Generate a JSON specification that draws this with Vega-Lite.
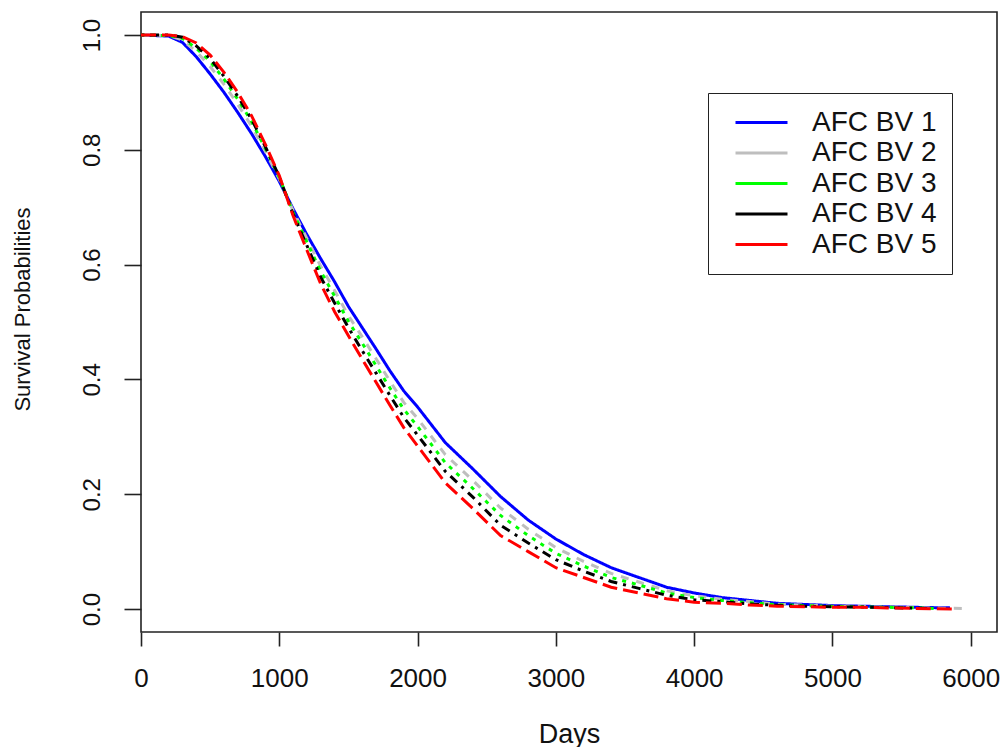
{
  "$schema": "https://vega.github.io/schema/vega-lite/v6.json",
  "width": 856,
  "height": 620,
  "autosize": "none",
  "padding": {"left": 141, "top": 12, "right": 7, "bottom": 115},
  "background": "white",
  "config": {
    "view": {"stroke": "#222222", "strokeWidth": 1.6},
    "font": "Liberation Sans"
  },
  "datasets": {
    "km": [
      {"series": "AFC BV 1", "day": 0, "s": 1.0},
      {"series": "AFC BV 1", "day": 200, "s": 0.998},
      {"series": "AFC BV 1", "day": 300, "s": 0.987},
      {"series": "AFC BV 1", "day": 400, "s": 0.962},
      {"series": "AFC BV 1", "day": 500, "s": 0.932},
      {"series": "AFC BV 1", "day": 600, "s": 0.9},
      {"series": "AFC BV 1", "day": 700, "s": 0.865},
      {"series": "AFC BV 1", "day": 800, "s": 0.828},
      {"series": "AFC BV 1", "day": 900, "s": 0.788},
      {"series": "AFC BV 1", "day": 1000, "s": 0.745},
      {"series": "AFC BV 1", "day": 1100, "s": 0.697},
      {"series": "AFC BV 1", "day": 1200, "s": 0.652},
      {"series": "AFC BV 1", "day": 1300, "s": 0.61},
      {"series": "AFC BV 1", "day": 1400, "s": 0.57},
      {"series": "AFC BV 1", "day": 1500, "s": 0.527},
      {"series": "AFC BV 1", "day": 1600, "s": 0.49},
      {"series": "AFC BV 1", "day": 1700, "s": 0.453},
      {"series": "AFC BV 1", "day": 1800, "s": 0.415},
      {"series": "AFC BV 1", "day": 1900, "s": 0.38},
      {"series": "AFC BV 1", "day": 2000, "s": 0.352},
      {"series": "AFC BV 1", "day": 2200, "s": 0.29},
      {"series": "AFC BV 1", "day": 2400, "s": 0.244},
      {"series": "AFC BV 1", "day": 2600, "s": 0.196},
      {"series": "AFC BV 1", "day": 2800, "s": 0.155},
      {"series": "AFC BV 1", "day": 3000, "s": 0.122},
      {"series": "AFC BV 1", "day": 3200, "s": 0.095},
      {"series": "AFC BV 1", "day": 3400, "s": 0.072},
      {"series": "AFC BV 1", "day": 3600, "s": 0.055},
      {"series": "AFC BV 1", "day": 3800, "s": 0.038},
      {"series": "AFC BV 1", "day": 4000, "s": 0.028},
      {"series": "AFC BV 1", "day": 4200, "s": 0.02},
      {"series": "AFC BV 1", "day": 4400, "s": 0.015},
      {"series": "AFC BV 1", "day": 4600, "s": 0.01},
      {"series": "AFC BV 1", "day": 4800, "s": 0.008},
      {"series": "AFC BV 1", "day": 5000, "s": 0.006},
      {"series": "AFC BV 1", "day": 5200, "s": 0.005},
      {"series": "AFC BV 1", "day": 5400, "s": 0.004},
      {"series": "AFC BV 1", "day": 5600, "s": 0.003},
      {"series": "AFC BV 1", "day": 5850, "s": 0.002},

      {"series": "AFC BV 2", "day": 0, "s": 1.0},
      {"series": "AFC BV 2", "day": 200, "s": 0.999},
      {"series": "AFC BV 2", "day": 300, "s": 0.991},
      {"series": "AFC BV 2", "day": 400, "s": 0.971},
      {"series": "AFC BV 2", "day": 500, "s": 0.945},
      {"series": "AFC BV 2", "day": 600, "s": 0.914},
      {"series": "AFC BV 2", "day": 700, "s": 0.879},
      {"series": "AFC BV 2", "day": 800, "s": 0.841},
      {"series": "AFC BV 2", "day": 900, "s": 0.797},
      {"series": "AFC BV 2", "day": 1000, "s": 0.749},
      {"series": "AFC BV 2", "day": 1100, "s": 0.694},
      {"series": "AFC BV 2", "day": 1200, "s": 0.645},
      {"series": "AFC BV 2", "day": 1300, "s": 0.597},
      {"series": "AFC BV 2", "day": 1400, "s": 0.555},
      {"series": "AFC BV 2", "day": 1500, "s": 0.511},
      {"series": "AFC BV 2", "day": 1600, "s": 0.474},
      {"series": "AFC BV 2", "day": 1700, "s": 0.436},
      {"series": "AFC BV 2", "day": 1800, "s": 0.397},
      {"series": "AFC BV 2", "day": 1900, "s": 0.36},
      {"series": "AFC BV 2", "day": 2000, "s": 0.332},
      {"series": "AFC BV 2", "day": 2200, "s": 0.269},
      {"series": "AFC BV 2", "day": 2400, "s": 0.224},
      {"series": "AFC BV 2", "day": 2600, "s": 0.176},
      {"series": "AFC BV 2", "day": 2800, "s": 0.139},
      {"series": "AFC BV 2", "day": 3000, "s": 0.107},
      {"series": "AFC BV 2", "day": 3200, "s": 0.083},
      {"series": "AFC BV 2", "day": 3400, "s": 0.062},
      {"series": "AFC BV 2", "day": 3600, "s": 0.047},
      {"series": "AFC BV 2", "day": 3800, "s": 0.032},
      {"series": "AFC BV 2", "day": 4000, "s": 0.023},
      {"series": "AFC BV 2", "day": 4200, "s": 0.017},
      {"series": "AFC BV 2", "day": 4400, "s": 0.013},
      {"series": "AFC BV 2", "day": 4600, "s": 0.0085},
      {"series": "AFC BV 2", "day": 4800, "s": 0.007},
      {"series": "AFC BV 2", "day": 5000, "s": 0.005},
      {"series": "AFC BV 2", "day": 5200, "s": 0.0045},
      {"series": "AFC BV 2", "day": 5400, "s": 0.0035},
      {"series": "AFC BV 2", "day": 5600, "s": 0.0025},
      {"series": "AFC BV 2", "day": 5800, "s": 0.0015},
      {"series": "AFC BV 2", "day": 5960, "s": 0.001},

      {"series": "AFC BV 3", "day": 0, "s": 1.0},
      {"series": "AFC BV 3", "day": 200, "s": 0.999},
      {"series": "AFC BV 3", "day": 300, "s": 0.994},
      {"series": "AFC BV 3", "day": 400, "s": 0.977},
      {"series": "AFC BV 3", "day": 500, "s": 0.954},
      {"series": "AFC BV 3", "day": 600, "s": 0.923},
      {"series": "AFC BV 3", "day": 700, "s": 0.888},
      {"series": "AFC BV 3", "day": 800, "s": 0.849},
      {"series": "AFC BV 3", "day": 900, "s": 0.802},
      {"series": "AFC BV 3", "day": 1000, "s": 0.752},
      {"series": "AFC BV 3", "day": 1100, "s": 0.691},
      {"series": "AFC BV 3", "day": 1200, "s": 0.639},
      {"series": "AFC BV 3", "day": 1300, "s": 0.588},
      {"series": "AFC BV 3", "day": 1400, "s": 0.545},
      {"series": "AFC BV 3", "day": 1500, "s": 0.501},
      {"series": "AFC BV 3", "day": 1600, "s": 0.463},
      {"series": "AFC BV 3", "day": 1700, "s": 0.424},
      {"series": "AFC BV 3", "day": 1800, "s": 0.385},
      {"series": "AFC BV 3", "day": 1900, "s": 0.348},
      {"series": "AFC BV 3", "day": 2000, "s": 0.318},
      {"series": "AFC BV 3", "day": 2200, "s": 0.255},
      {"series": "AFC BV 3", "day": 2400, "s": 0.21},
      {"series": "AFC BV 3", "day": 2600, "s": 0.163},
      {"series": "AFC BV 3", "day": 2800, "s": 0.128},
      {"series": "AFC BV 3", "day": 3000, "s": 0.097},
      {"series": "AFC BV 3", "day": 3200, "s": 0.075},
      {"series": "AFC BV 3", "day": 3400, "s": 0.055},
      {"series": "AFC BV 3", "day": 3600, "s": 0.042},
      {"series": "AFC BV 3", "day": 3800, "s": 0.028},
      {"series": "AFC BV 3", "day": 4000, "s": 0.02},
      {"series": "AFC BV 3", "day": 4200, "s": 0.015},
      {"series": "AFC BV 3", "day": 4400, "s": 0.011},
      {"series": "AFC BV 3", "day": 4600, "s": 0.0075},
      {"series": "AFC BV 3", "day": 4800, "s": 0.006},
      {"series": "AFC BV 3", "day": 5000, "s": 0.0045},
      {"series": "AFC BV 3", "day": 5200, "s": 0.004},
      {"series": "AFC BV 3", "day": 5400, "s": 0.003},
      {"series": "AFC BV 3", "day": 5600, "s": 0.002},
      {"series": "AFC BV 3", "day": 5750, "s": 0.001},

      {"series": "AFC BV 4", "day": 0, "s": 1.0},
      {"series": "AFC BV 4", "day": 200, "s": 1.0},
      {"series": "AFC BV 4", "day": 300, "s": 0.996},
      {"series": "AFC BV 4", "day": 400, "s": 0.981},
      {"series": "AFC BV 4", "day": 500, "s": 0.959},
      {"series": "AFC BV 4", "day": 600, "s": 0.928},
      {"series": "AFC BV 4", "day": 700, "s": 0.893},
      {"series": "AFC BV 4", "day": 800, "s": 0.853},
      {"series": "AFC BV 4", "day": 900, "s": 0.805},
      {"series": "AFC BV 4", "day": 1000, "s": 0.753},
      {"series": "AFC BV 4", "day": 1100, "s": 0.688},
      {"series": "AFC BV 4", "day": 1200, "s": 0.633},
      {"series": "AFC BV 4", "day": 1300, "s": 0.578},
      {"series": "AFC BV 4", "day": 1400, "s": 0.533},
      {"series": "AFC BV 4", "day": 1500, "s": 0.49},
      {"series": "AFC BV 4", "day": 1600, "s": 0.45},
      {"series": "AFC BV 4", "day": 1700, "s": 0.411},
      {"series": "AFC BV 4", "day": 1800, "s": 0.372},
      {"series": "AFC BV 4", "day": 1900, "s": 0.334},
      {"series": "AFC BV 4", "day": 2000, "s": 0.303},
      {"series": "AFC BV 4", "day": 2200, "s": 0.24},
      {"series": "AFC BV 4", "day": 2400, "s": 0.195},
      {"series": "AFC BV 4", "day": 2600, "s": 0.146},
      {"series": "AFC BV 4", "day": 2800, "s": 0.115},
      {"series": "AFC BV 4", "day": 3000, "s": 0.086},
      {"series": "AFC BV 4", "day": 3200, "s": 0.066},
      {"series": "AFC BV 4", "day": 3400, "s": 0.048},
      {"series": "AFC BV 4", "day": 3600, "s": 0.036},
      {"series": "AFC BV 4", "day": 3800, "s": 0.024},
      {"series": "AFC BV 4", "day": 4000, "s": 0.016},
      {"series": "AFC BV 4", "day": 4200, "s": 0.013},
      {"series": "AFC BV 4", "day": 4400, "s": 0.009},
      {"series": "AFC BV 4", "day": 4600, "s": 0.0065},
      {"series": "AFC BV 4", "day": 4800, "s": 0.005},
      {"series": "AFC BV 4", "day": 5000, "s": 0.004},
      {"series": "AFC BV 4", "day": 5200, "s": 0.0035},
      {"series": "AFC BV 4", "day": 5400, "s": 0.0025},
      {"series": "AFC BV 4", "day": 5600, "s": 0.0015},
      {"series": "AFC BV 4", "day": 5700, "s": 0.001},

      {"series": "AFC BV 5", "day": 0, "s": 1.0},
      {"series": "AFC BV 5", "day": 200, "s": 1.0},
      {"series": "AFC BV 5", "day": 300, "s": 0.997},
      {"series": "AFC BV 5", "day": 400, "s": 0.986},
      {"series": "AFC BV 5", "day": 500, "s": 0.965},
      {"series": "AFC BV 5", "day": 600, "s": 0.935},
      {"series": "AFC BV 5", "day": 700, "s": 0.9},
      {"series": "AFC BV 5", "day": 800, "s": 0.859},
      {"series": "AFC BV 5", "day": 900, "s": 0.809},
      {"series": "AFC BV 5", "day": 1000, "s": 0.755},
      {"series": "AFC BV 5", "day": 1100, "s": 0.685},
      {"series": "AFC BV 5", "day": 1200, "s": 0.625},
      {"series": "AFC BV 5", "day": 1300, "s": 0.566},
      {"series": "AFC BV 5", "day": 1400, "s": 0.518},
      {"series": "AFC BV 5", "day": 1500, "s": 0.476},
      {"series": "AFC BV 5", "day": 1600, "s": 0.435},
      {"series": "AFC BV 5", "day": 1700, "s": 0.395},
      {"series": "AFC BV 5", "day": 1800, "s": 0.355},
      {"series": "AFC BV 5", "day": 1900, "s": 0.316},
      {"series": "AFC BV 5", "day": 2000, "s": 0.284},
      {"series": "AFC BV 5", "day": 2200, "s": 0.22},
      {"series": "AFC BV 5", "day": 2400, "s": 0.175},
      {"series": "AFC BV 5", "day": 2600, "s": 0.128},
      {"series": "AFC BV 5", "day": 2800, "s": 0.1},
      {"series": "AFC BV 5", "day": 3000, "s": 0.072},
      {"series": "AFC BV 5", "day": 3200, "s": 0.055},
      {"series": "AFC BV 5", "day": 3400, "s": 0.038},
      {"series": "AFC BV 5", "day": 3600, "s": 0.028},
      {"series": "AFC BV 5", "day": 3800, "s": 0.018},
      {"series": "AFC BV 5", "day": 4000, "s": 0.012},
      {"series": "AFC BV 5", "day": 4200, "s": 0.01},
      {"series": "AFC BV 5", "day": 4400, "s": 0.007},
      {"series": "AFC BV 5", "day": 4600, "s": 0.005},
      {"series": "AFC BV 5", "day": 4800, "s": 0.004},
      {"series": "AFC BV 5", "day": 5000, "s": 0.003},
      {"series": "AFC BV 5", "day": 5200, "s": 0.003},
      {"series": "AFC BV 5", "day": 5400, "s": 0.002},
      {"series": "AFC BV 5", "day": 5600, "s": 0.001},
      {"series": "AFC BV 5", "day": 5870, "s": 0.0}
    ]
  },
  "data": {"name": "km"},
  "transform": [{"calculate": "datum.series", "as": "line_type"}],
  "mark": {"type": "line", "strokeWidth": 3, "clip": true},
  "encoding": {
    "x": {
      "field": "day",
      "type": "quantitative",
      "scale": {"domain": [0, 6190], "nice": false, "zero": false},
      "axis": {
        "title": "Days",
        "values": [0, 1000, 2000, 3000, 4000, 5000, 6000],
        "format": "d",
        "grid": false,
        "domain": false,
        "tickColor": "#222222",
        "tickWidth": 1.6,
        "tickSize": 14,
        "labelFontSize": 26,
        "labelColor": "#111111",
        "labelPadding": 19,
        "labelBaseline": "top",
        "labelFlush": false,
        "labelOverlap": false,
        "titleFontSize": 27,
        "titleFontWeight": "normal",
        "titleColor": "#111111",
        "titleBaseline": "top",
        "titleY": 89
      }
    },
    "y": {
      "field": "s",
      "type": "quantitative",
      "scale": {"domain": [-0.04, 1.04], "nice": false, "zero": false},
      "axis": {
        "title": "Survival Probabilities",
        "values": [0, 0.2, 0.4, 0.6, 0.8, 1.0],
        "format": ".1f",
        "grid": false,
        "domain": false,
        "tickColor": "#222222",
        "tickWidth": 1.6,
        "tickSize": 17,
        "labelFontSize": 24,
        "labelColor": "#111111",
        "labelAngle": -90,
        "labelAlign": "center",
        "labelBaseline": "alphabetic",
        "labelPadding": 25,
        "labelFlush": false,
        "labelOverlap": false,
        "titleFontSize": 22,
        "titleFontWeight": "normal",
        "titleColor": "#111111",
        "titleAngle": -90,
        "titleAlign": "center",
        "titleBaseline": "alphabetic",
        "titleX": -112,
        "titleY": 297
      }
    },
    "color": {
      "field": "series",
      "type": "nominal",
      "scale": {
        "domain": ["AFC BV 1", "AFC BV 2", "AFC BV 3", "AFC BV 4", "AFC BV 5"],
        "range": ["#0000FF", "#BEBEBE", "#00FF00", "#000000", "#FF0000"]
      },
      "legend": {
        "title": null,
        "orient": "none",
        "legendX": 567,
        "legendY": 81,
        "padding": 15,
        "fillColor": "white",
        "strokeColor": "#222222",
        "symbolType": "M-2,0L2,0",
        "symbolSize": 676,
        "symbolStrokeWidth": 3,
        "symbolDash": [1, 0],
        "symbolOffset": 24,
        "labelOffset": 36,
        "labelFontSize": 28,
        "labelColor": "#111111",
        "labelExpr": "datum.label + ' '",
        "rowPadding": 1.5,
        "labelLimit": 400
      }
    },
    "strokeDash": {
      "field": "line_type",
      "type": "nominal",
      "sort": "ascending",
      "scale": {
        "range": [[1, 0], [8, 8], [4, 6], [3, 6, 9, 6], [15, 6]]
      },
      "legend": null
    }
  }
}
